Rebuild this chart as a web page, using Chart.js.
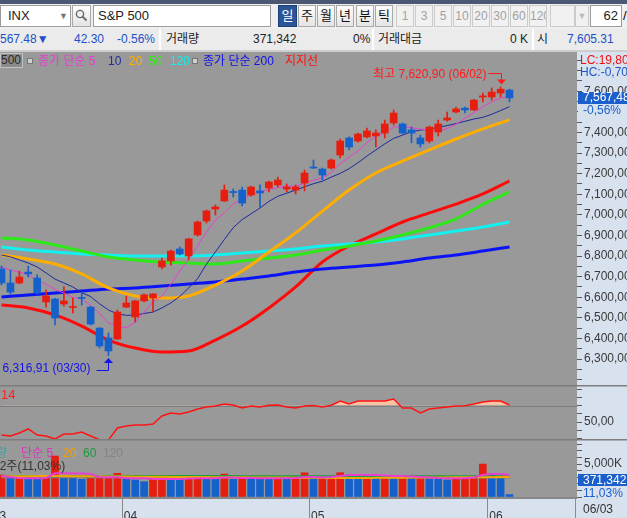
<!DOCTYPE html>
<html lang="ko">
<head>
<meta charset="utf-8">
<title>S&amp;P 500 일봉</title>
<script src="https://cdn.jsdelivr.net/npm/chart.js@4.4.1/dist/chart.umd.min.js"></script>
<style>
  html, body { margin: 0; padding: 0; }
  body { width: 627px; height: 518px; overflow: hidden; position: relative; background: #999;
         font: 12px "Liberation Sans", "Noto Sans CJK KR", sans-serif; }
  .a { position: absolute; white-space: nowrap; box-sizing: border-box; }
  canvas { position: absolute; left: 0; }
  #tb { position: absolute; left: 0; top: 0; width: 627px; height: 50px; background: #efefef; overflow: hidden; }
  .band { left: 0; top: 0; width: 627px; height: 4px; background: #4b5874; }
  .fld { top: 5px; height: 22px; line-height: 20px; background: #fff; border: 1px solid #9c9c9c; color: #222; font-size: 13px; }
  .btn { top: 5px; height: 22px; line-height: 20px; text-align: center; font-size: 13px; color: #111;
         border: 1px solid #a8a8a8; background: linear-gradient(#fdfdfd, #e4e4e4); overflow: hidden; }
  .btn.on { background: #2c5597; color: #fff; border-color: #1d3f7a; }
  .btn.off { color: #a2a2a2; border-color: #cbcbcb; background: #f1f1f1; font-size: 12px; }
  .r2 { top: 29px; height: 21px; background: #ebebeb; border-left: 2px solid #fff; }
  .t2 { top: 32px; line-height: 15px; color: #222; }
  .blue { color: #1e4fc8; }
  .lg { top: 53px; line-height: 16px; }
  .pan { line-height: 12px; }
</style>
</head>
<body>

<div id="tb">
  <div class="a band"></div>
  <div class="a fld" style="left:0;width:71px;padding-left:7px">INX<span class="a" style="left:58px;top:0;color:#777;font-size:9px">▼</span></div>
  <div class="a btn" style="left:72px;width:19px">
    <svg width="13" height="13" viewBox="0 0 13 13" style="margin-top:3px"><circle cx="5" cy="5" r="3.6" fill="none" stroke="#666" stroke-width="1.4"/><line x1="7.6" y1="7.6" x2="11.5" y2="11.5" stroke="#666" stroke-width="1.8"/></svg>
  </div>
  <div class="a fld" style="left:93px;width:178px;padding-left:4px">S&amp;P 500</div>
  <div class="a btn on" style="left:278px;width:19px">일</div>
  <div class="a btn" style="left:298px;width:18px">주</div>
  <div class="a btn" style="left:317px;width:18px">월</div>
  <div class="a btn" style="left:336px;width:18px">년</div>
  <div class="a btn" style="left:356px;width:18px">분</div>
  <div class="a btn" style="left:375px;width:18px">틱</div>
  <div class="a btn off" style="left:396px;width:18px">1</div>
  <div class="a btn off" style="left:415px;width:18px">3</div>
  <div class="a btn off" style="left:434px;width:18px">5</div>
  <div class="a btn off" style="left:453px;width:18px">10</div>
  <div class="a btn off" style="left:472px;width:18px">20</div>
  <div class="a btn off" style="left:491px;width:18px">30</div>
  <div class="a btn off" style="left:510px;width:18px">60</div>
  <div class="a btn off" style="left:529px;width:18px">120</div>
  <div class="a btn off" style="left:550px;width:25px"></div>
  <div class="a btn off" style="left:575px;width:14px;font-size:9px;color:#bbb">▼</div>
  <div class="a fld" style="left:590px;width:32px;text-align:right;padding-right:3px">62</div>
  <div class="a" style="left:623px;top:8px;font-size:13px">/</div>

  <div class="a r2" style="left:-2px;width:161px"></div>
  <div class="a r2" style="left:159px;width:213px"></div>
  <div class="a r2" style="left:372px;width:160px"></div>
  <div class="a r2" style="left:532px;width:95px"></div>
  <div class="a t2 blue" style="left:-10px">7,567.48▼</div>
  <div class="a t2 blue" style="left:74px">42.30</div>
  <div class="a t2 blue" style="left:117px">-0.56%</div>
  <div class="a t2" style="left:166px">거래량</div>
  <div class="a t2" style="left:253px">371,342</div>
  <div class="a t2" style="left:353px">0%</div>
  <div class="a t2" style="left:378px">거래대금</div>
  <div class="a t2" style="left:510px">0 K</div>
  <div class="a t2" style="left:537px">시</div>
  <div class="a t2 blue" style="left:567px">7,605.31</div>
</div>
<div class="a" style="left:0;top:50px;width:627px;height:2px;background:#cdcdcd"></div>

<canvas id="cMain" width="627" height="333" style="top:52px"></canvas>
<canvas id="cRsi" width="627" height="54" style="top:385px"></canvas>
<canvas id="cVol" width="627" height="79" style="top:439px"></canvas>

<!-- 범례 -->
<div class="a lg" style="left:0;width:23px;height:15px;background:#8b8b8b;border:1px solid #c2c2c2;color:#2a2a2a;text-align:right;padding-right:1px;line-height:13px">500</div>
<div class="a" style="left:27px;top:58px;width:6px;height:6px;background:#cfcfcf;border:1px solid #777"></div>
<div class="a lg" style="left:38px;color:#e43fd0">종가 단순 5</div>
<div class="a lg" style="left:108px;color:#1f2f9f">10</div>
<div class="a lg" style="left:129px;color:#ffb000">20</div>
<div class="a lg" style="left:149px;color:#33ee11">50</div>
<div class="a lg" style="left:170px;color:#11eeee">120</div>
<div class="a" style="left:192px;top:58px;width:6px;height:6px;background:#cfcfcf;border:1px solid #777"></div>
<div class="a lg" style="left:203px;color:#1010ee">종가 단순 200</div>
<div class="a lg" style="left:285px;color:#ff1010">지지선</div>

<div class="a" style="left:1px;top:388px;line-height:14px;color:#ff2020;font-size:13px">14</div>

<div class="a" style="left:-26px;top:446px;line-height:14px;color:#4a9d9d">거래량</div>
<div class="a" style="left:21px;top:446px;line-height:14px;color:#e030c0">단순 5</div>
<div class="a" style="left:63px;top:446px;line-height:14px;color:#f0a000">20</div>
<div class="a" style="left:83px;top:446px;line-height:14px;color:#1a9a3a">60</div>
<div class="a" style="left:103px;top:446px;line-height:14px;color:#858585">120</div>
<div class="a" style="left:-7px;top:459px;line-height:14px;color:#333">52주(11,03%)</div>

<!-- 오른쪽 축 패널 -->
<div class="a pan" style="left:580px;top:54px;color:#ee1111">LC:19,80</div>
<div class="a pan" style="left:580px;top:66px;color:#1e56c8">HC:-0,70</div>
<div class="a pan" style="left:578px;top:474px;width:49px;height:12px;background:#1a5fcc;color:#fff;padding-left:5px">371,342</div>
<div class="a pan" style="left:583px;top:487px;color:#1a5fcc">11,03%</div>
<div class="a" style="left:575px;top:499px;width:1px;height:19px;background:#8c8c8c"></div>
<div class="a pan" style="left:583px;top:503px;color:#333">06/03</div>

<script>
// ─────────────────────────────────────────────
// S&P 500 일봉 — 캔들 + 이동평균, RSI(14), 거래량
// ─────────────────────────────────────────────
const dates = ['03/12','03/13','03/16','03/17','03/18','03/19','03/20','03/23','03/24','03/25','03/26','03/27','03/30','03/31',
  '04/01','04/02','04/06','04/07','04/08','04/09','04/10','04/13','04/14','04/15','04/16','04/17','04/20','04/21','04/22','04/23','04/24','04/27','04/28','04/29','04/30',
  '05/01','05/04','05/05','05/06','05/07','05/08','05/11','05/12','05/13','05/14','05/15','05/18','05/19','05/20','05/21','05/22','05/26','05/27','05/28','05/29',
  '06/01','06/02','06/03'];

const open  = [6737,6669,6669,6722,6693,6577,6591,6567,6550,6599, 6552,6450,6402,6397,6552,6504,6582,6596,6747,6776,
  6834,6800,6902,6970,7028,7067,7113,7120,7096,7116, 7130,7145,7125,7120,7154,7232,7222,7227,7290,7373,
  7358,7378,7383,7397,7446,7441,7412,7373,7358,7402, 7460,7499,7518,7509,7572,7572,7591,7605.31];
const high  = [6751,6732,6727,6751,6708,6635,6595,6650,6596,6625, 6555,6452,6426,6538,6606,6584,6616,6618,6790,6829,
  6844,6886,6970,7023,7048,7145,7125,7135,7140,7145, 7164,7183,7150,7145,7217,7266,7227,7271,7368,7378,
  7397,7421,7412,7460,7509,7446,7426,7387,7431,7460, 7499,7523,7523,7560,7591,7616,7620.90,7610];
const low   = [6659,6616,6665,6698,6615,6552,6465,6557,6523,6562, 6465,6353,6316.91,6395,6550,6480,6577,6528,6737,6756,
  6805,6781,6897,6960,6999,7065,7086,7043,7090,7038, 7111,7135,7111,7101,7116,7225,7169,7222,7276,7315,
  7353,7373,7329,7373,7436,7392,7349,7329,7349,7383, 7455,7494,7494,7505,7548,7557,7572,7548];
const close = [6669,6625,6698,6713,6620,6606,6499,6582,6553,6594, 6470,6363,6339,6528,6572,6582,6611,6616,6776,6824,
  6810,6883,6965,7019,7038,7120,7108,7057,7135,7106, 7159,7169,7135,7135,7203,7227,7193,7266,7358,7329,
  7392,7407,7397,7441,7494,7397,7397,7344,7426,7441, 7470,7514,7509,7557,7577,7596,7609.78,7567.48];

const ma5  = [6747,6732,6722,6708,6680,6663,6638,6620,6598,6593, 6560,6520,6475,6459,6452,6478,6528,6577,6606,6664,
  6727,6786,6850,6917,6975,7010,7053,7074,7098,7111, 7123,7132,7141,7138,7154,7168,7179,7206,7248,7280,
  7311,7351,7380,7400,7426,7427,7423,7416,7412,7406, 7418,7440,7469,7496,7524,7550,7566,7577];
const ma10 = [6805,6796,6781,6766,6747,6718,6688,6669,6650,6622, 6603,6568,6538,6519,6512,6513,6521,6528,6548,6572,
  6604,6645,6690,6761,6820,6880,6938,6977,7005,7033, 7065,7090,7105,7120,7136,7151,7163,7183,7201,7224,
  7253,7285,7315,7344,7371,7387,7404,7411,7416,7425, 7433,7443,7454,7465,7473,7488,7506,7525];

// 느린 선은 3봉 간격으로 읽은 값
const slowIdx = [0,3,6,9,12,15,18,21,24,27,30,33,36,39,42,45,48,51,54,57];
const ma20    = [6805,6785,6761,6713,6645,6606,6596,6606,6659,6727,6819,6912,7018,7120,7203,7261,7315,7368,7417,7461];
const ma50    = [6887,6878,6853,6824,6795,6781,6771,6766,6761,6776,6790,6805,6829,6849,6873,6902,6937,6980,7050,7112];
const ma120   = [6844,6829,6819,6810,6805,6800,6800,6800,6805,6815,6824,6834,6849,6858,6868,6883,6902,6921,6941,6965];
const ma200   = [6601,6611,6620,6630,6640,6645,6654,6664,6674,6688,6703,6722,6737,6747,6756,6771,6790,6805,6824,6844];
const support = [6562,6548,6514,6460,6392,6353,6334,6339,6392,6460,6548,6650,6771,6849,6907,6965,7009,7052,7101,7164];

const rsi = [34.1,32.9,36.6,41.5,34.1,32.9,29.3,35.4,35.4,37.8, 32.9,28.5,28.0,42.7,45.1,46.3,46.3,47.6,57.3,61.0,
  59.8,62.2,65.9,68.3,69.5,72.0,70.7,67.1,69.5,68.3, 70.4,70.7,68.3,67.1,69.5,70.2,68.3,70.5,75.6,72.0,
  75.6,75.6,75.6,75.6,78.0,67.1,67.1,61.0,65.9,67.1, 68.3,69.5,69.9,72.0,74.4,75.6,75.6,70.7];

// 거래량 (단위 K)
const volume = [3330,2920,2950,2840,2810,2920,6210,3080,2840,2680, 2900,2930,2960,3590,3080,2580,2320,2680,3080,2700,
  2680,2800,2840,2820,2800,3480,2680,2830,2810,2790, 2770,2830,2800,2840,3670,2830,2850,2870,3680,3330,
  2980,3330,2980,3080,2980,3180,2980,3000,2980,2730, 2580,2830,2850,2870,4990,3490,2930,371.342];
const volMa5 = [3180,3030,2880,2830,2830,2880,3590,3590,3570,3560, 3480,2990,2980,3030,2830,2830,2830,2730,2730,2720,
  2730,2800,2830,2830,2830,2950,2960,2880,2880,2830, 2830,2830,2830,2880,3030,3030,2960,3030,3180,3330,
  3330,3330,3330,3260,3180,3180,3110,3030,2960,2880, 2830,2830,2830,2960,3330,3480,3480,3330];
const volMa20  = [3150,3150,3180,3150,3100,3080,3050,3030,3000,2980,2950,2930,2900,2880,2900,2930,2950,2980,3000,3030];
const volMa60  = [3200,3200,3190,3190,3180,3180,3180,3170,3170,3160,3160,3160,3150,3150,3150,3140,3140,3140,3130,3130];
const volMa120 = [3000,3000,2990,2990,2990,2985,2985,2980,2980,2980,2975,2975,2970,2970,2970,2965,2965,2960,2960,2960];

const priceLabels = [7600,7500,7400,7300,7200,7100,7000,6900,6800,6700,6600,6500,6400,6300];
const rsiLabels = [50];
const volLabels = [5000];

// ── 스타일 ──
const FONT = '"Liberation Sans", "Noto Sans CJK KR", sans-serif';
const GRAY = '#999999', PANEL = '#d8e1ee', SEP = '#7d7d7d';
const RED = '#e61e10', BLUE = '#1461cc', TAG = '#1a5fcc';
const X_MIN = -0.17, X_MAX = 64.57;

Chart.defaults.font.family = FONT;
Chart.defaults.font.size = 12;
Chart.defaults.color = '#3a3a3a';

const fmt = (v, d = 2) => {
  const [i, f] = Math.abs(v).toFixed(d).split('.');
  return (v < 0 ? '-' : '') + i.replace(/\B(?=(\d{3})+(?!\d))/g, ',') + (f ? ',' + f : '');
};

const line = (label, arr, idx, color, width, order) => ({
  type: 'line', label, order,
  data: arr.map((v, i) => ({ x: idx ? idx[i] : i, y: v })),
  borderColor: color, borderWidth: width, pointRadius: 0,
  cubicInterpolationMode: idx ? 'monotone' : 'default', tension: 0,
});

const rightAxis = (min, max, tickVals, labels, fmtFn) => ({
  position: 'right', min, max,
  border: { display: false },
  grid: { drawOnChartArea: false, tickLength: 5, tickColor: '#5a5a5a' },
  ticks: { autoSkip: false, padding: 2, color: '#3a3a3a', font: { family: FONT, size: 12 },
           callback: (v) => (labels.includes(v) ? fmtFn(v) : '') },
  afterBuildTicks: (s) => { s.ticks = tickVals.map((v) => ({ value: v })); },
  afterFit: (s) => { s.width = 50; s.paddingTop = 0; s.paddingBottom = 0; },
});

const hiddenX = { type: 'linear', min: X_MIN, max: X_MAX, offset: false, display: false };

const baseOpts = {
  responsive: false, animation: false, events: [],
  layout: { padding: 0, autoPadding: false },
  plugins: { legend: { display: false }, tooltip: { enabled: false } },
};

// 배경: 차트 영역 회색, 축 패널 연파랑
const paneBg = {
  id: 'paneBg',
  beforeDraw(chart) {
    const { ctx, chartArea: a, width, height } = chart;
    ctx.save();
    ctx.fillStyle = PANEL; ctx.fillRect(0, 0, width, height);
    ctx.fillStyle = GRAY; ctx.fillRect(a.left, a.top, a.right - a.left, a.bottom - a.top);
    ctx.restore();
  },
};

const topSep = {
  id: 'topSep',
  beforeDatasetsDraw(chart) {
    const { ctx, width } = chart;
    ctx.save(); ctx.fillStyle = SEP; ctx.fillRect(0, 0, width, 1.5); ctx.restore();
  },
};

// 최고/최저 표시
const markers = {
  id: 'markers',
  afterDatasetsDraw(chart) {
    const { ctx, scales: { x, y } } = chart;
    const hi = high.indexOf(Math.max(...high));
    const lo = low.indexOf(Math.min(...low));
    ctx.save();
    ctx.lineWidth = 1;
    ctx.font = '12px ' + FONT;
    ctx.textBaseline = 'middle';
    ctx.textAlign = 'right';

    let px = Math.round(x.getPixelForValue(hi)) + 0.5;
    let py = y.getPixelForValue(high[hi]);
    ctx.strokeStyle = ctx.fillStyle = '#ff1a1a';
    ctx.beginPath();
    ctx.moveTo(px - 13, Math.round(py - 13.5) + 0.5);
    ctx.lineTo(px, Math.round(py - 13.5) + 0.5);
    ctx.lineTo(px, py - 7);
    ctx.stroke();
    ctx.beginPath();
    ctx.moveTo(px - 4.5, py - 7.5); ctx.lineTo(px + 4.5, py - 7.5); ctx.lineTo(px, py - 2.5);
    ctx.fill();
    ctx.fillText('최고 ' + fmt(high[hi]) + ' (' + dates[hi] + ')', px - 15, py - 12.5);

    px = Math.round(x.getPixelForValue(lo)) + 0.5;
    py = y.getPixelForValue(low[lo]);
    ctx.strokeStyle = ctx.fillStyle = '#1414e6';
    ctx.beginPath();
    ctx.moveTo(px - 12, Math.round(py + 14.5) + 0.5);
    ctx.lineTo(px, Math.round(py + 14.5) + 0.5);
    ctx.lineTo(px, py + 7);
    ctx.stroke();
    ctx.beginPath();
    ctx.moveTo(px - 4.5, py + 7.5); ctx.lineTo(px + 4.5, py + 7.5); ctx.lineTo(px, py + 2.5);
    ctx.fill();
    ctx.fillText(fmt(low[lo]) + ' (' + dates[lo] + ')', px - 18, py + 13);
    ctx.restore();
  },
};

// 현재가 태그
const priceTag = {
  id: 'priceTag',
  afterDraw(chart) {
    const { ctx, chartArea: a, scales: { y } } = chart;
    const n = close.length - 1;
    const py = Math.round(y.getPixelForValue(close[n]));
    const chg = (close[n] - close[n - 1]) / close[n - 1] * 100;
    ctx.save();
    ctx.fillStyle = PANEL; ctx.fillRect(a.right + 1, py + 6, 50, 13);
    ctx.fillStyle = TAG; ctx.fillRect(a.right + 1, py - 6, 50, 12);
    ctx.font = '12px ' + FONT; ctx.textBaseline = 'middle';
    ctx.fillStyle = '#fff'; ctx.fillText(fmt(close[n]), a.right + 6, py);
    ctx.fillStyle = TAG; ctx.fillText(fmt(chg) + '%', a.right + 6, py + 13);
    ctx.restore();
  },
};

const candleColor = (c) => (close[c.dataIndex] >= open[c.dataIndex] ? RED : BLUE);

const priceTicks = [];
for (let v = 6200; v <= 7750; v += 50) priceTicks.push(v);

new Chart(document.getElementById('cMain'), {
  data: {
    datasets: [
      { type: 'bar', label: '몸통', order: 0, grouped: false, barThickness: 7, minBarLength: 1,
        data: close.map((c, i) => ({ x: i, y: [open[i], c] })), backgroundColor: candleColor },
      { type: 'bar', label: '꼬리', order: 1, grouped: false, barThickness: 1,
        data: close.map((c, i) => ({ x: i, y: [low[i], high[i]] })), backgroundColor: candleColor },
      line('5', ma5, null, '#e83fd2', 1, 2),
      line('10', ma10, null, '#1c2a9e', 1, 3),
      line('20', ma20, slowIdx, '#ffae00', 3, 4),
      line('50', ma50, slowIdx, '#2ee81a', 3, 5),
      line('120', ma120, slowIdx, '#14f0f0', 3, 6),
      line('200', ma200, slowIdx, '#0a14f5', 3, 7),
      line('지지선', support, slowIdx, '#ff0a0a', 3, 8),
    ],
  },
  options: {
    ...baseOpts,
    scales: {
      x: hiddenX,
      y: rightAxis(6173.8, 7790.3, priceTicks, priceLabels, (v) => fmt(v)),
    },
  },
  plugins: [paneBg, markers, priceTag],
});

// ── RSI ──
const rsiRef = {
  id: 'rsiRef',
  beforeDatasetsDraw(chart) {
    const { ctx, chartArea: a, scales: { y } } = chart;
    ctx.save();
    ctx.fillStyle = SEP;
    ctx.fillRect(a.left, Math.round(y.getPixelForValue(70)), a.right - a.left, 1);
    ctx.restore();
  },
};

new Chart(document.getElementById('cRsi'), {
  data: {
    datasets: [{
      type: 'line', label: 'RSI', data: rsi.map((v, i) => ({ x: i, y: v })),
      borderColor: '#ff1414', borderWidth: 1.5, pointRadius: 0, tension: 0,
      fill: { target: { value: 70 }, above: '#f6c4a2', below: 'rgba(0,0,0,0)' },
    }],
  },
  options: {
    ...baseOpts,
    scales: {
      x: hiddenX,
      y: rightAxis(29.27, 95.12, [30, 40, 50, 60, 70, 80, 90], rsiLabels, (v) => fmt(v)),
    },
  },
  plugins: [paneBg, topSep, rsiRef],
});

// ── 거래량 ──
const monthTicks = [{ value: -1.2, label: dates[0].slice(0, 2) }];
dates.forEach((d, i) => {
  if (i > 0 && d.slice(0, 2) !== dates[i - 1].slice(0, 2)) monthTicks.push({ value: i - 0.5, label: d.slice(0, 2) });
});

const dateRow = {
  id: 'dateRow',
  afterDraw(chart) {
    const { ctx, chartArea: a, height, scales: { x } } = chart;
    ctx.save();
    ctx.fillStyle = '#888';
    ctx.fillRect(a.left, a.bottom, a.right - a.left, 2);
    monthTicks.forEach((t) => {
      if (t.value < X_MIN) return;
      ctx.fillRect(Math.round(x.getPixelForValue(t.value)), a.bottom, 1, height - a.bottom);
    });
    ctx.restore();
  },
};

const volColor = (c) => (c.dataIndex === 0 || volume[c.dataIndex] >= volume[c.dataIndex - 1] ? RED : BLUE);

new Chart(document.getElementById('cVol'), {
  data: {
    datasets: [
      line('5', volMa5, null, '#e83fd2', 2, 1),
      line('20', volMa20, slowIdx, '#f0a800', 2, 2),
      line('60', volMa60, slowIdx, '#1aa040', 2, 3),
      line('120', volMa120, slowIdx, '#7c7c7c', 2, 4),
      { type: 'bar', label: '거래량', order: 5, grouped: false, barThickness: 7,
        data: volume.map((v, i) => ({ x: i, y: v })), backgroundColor: volColor },
    ],
  },
  options: {
    ...baseOpts,
    scales: {
      x: {
        type: 'linear', min: X_MIN, max: X_MAX, offset: false, position: 'bottom',
        grid: { display: false }, border: { display: false },
        ticks: { autoSkip: false, align: 'start', padding: 4, labelOffset: 2, maxRotation: 0,
                 color: '#333', font: { family: FONT, size: 12 },
                 callback: (v, i) => (monthTicks[i] ? monthTicks[i].label : '') },
        afterBuildTicks: (s) => { s.ticks = monthTicks.map((t) => ({ value: t.value })); },
        afterFit: (s) => { s.height = 21; s.paddingLeft = 0; s.paddingRight = 0; },
      },
      y: rightAxis(0, 8788, [0, 1000, 2000, 3000, 4000, 5000, 6000, 7000, 8000], volLabels, (v) => fmt(v, 0) + 'K'),
    },
  },
  plugins: [paneBg, topSep, dateRow],
});
</script>
</body>
</html>
